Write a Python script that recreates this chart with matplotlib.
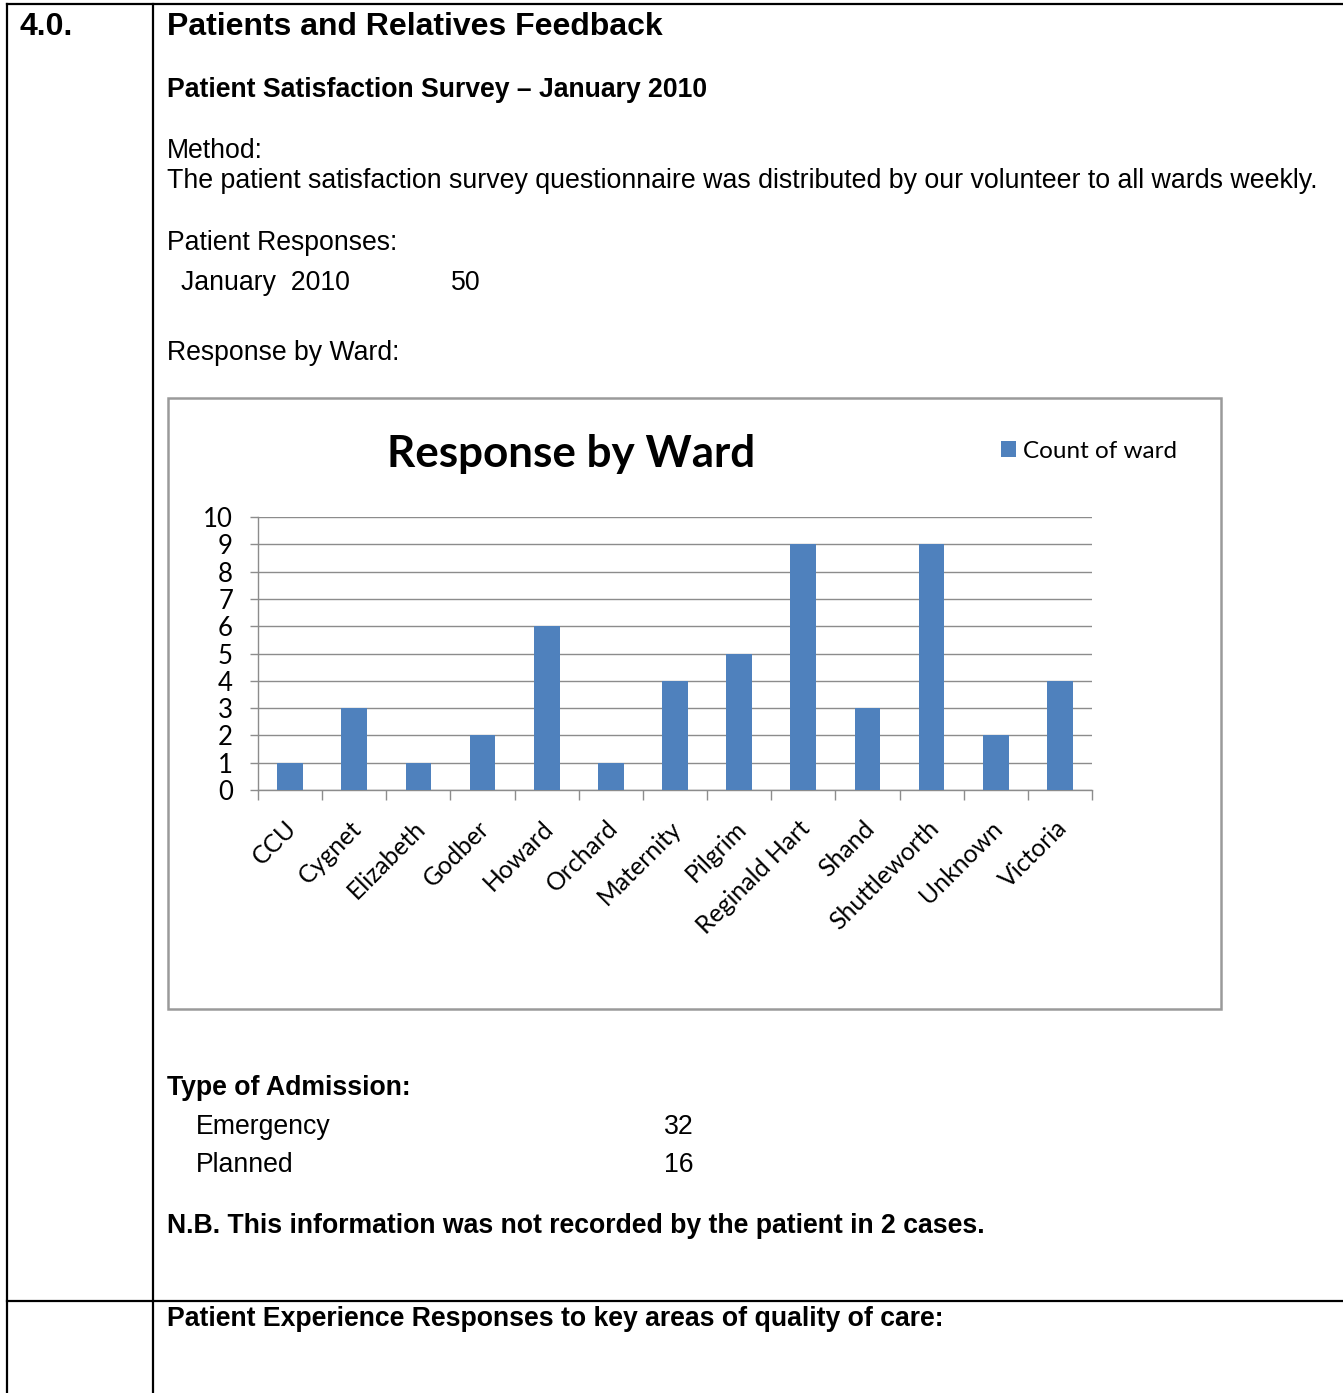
import numpy as np
import matplotlib.pyplot as plt
import matplotlib.transforms as mtransforms
from matplotlib.patches import Rectangle

W, H = 1343, 1393

wards = ['CCU', 'Cygnet', 'Elizabeth', 'Godber', 'Howard', 'Orchard', 'Maternity',
         'Pilgrim', 'Reginald Hart', 'Shand', 'Shuttleworth', 'Unknown', 'Victoria']
counts = [1, 3, 1, 2, 6, 1, 4, 5, 9, 3, 9, 2, 4]

admission_types = ['Emergency', 'Planned']
admission_counts = [32, 16]

BODY = 'Liberation Sans'
CHART = 'Lato'
BAR_BLUE = '#4F81BD'
GRID_GREY = '#8C8C8C'

fig = plt.figure(figsize=(W / 100, H / 100), dpi=100)

# page layer in pixel coordinates (y pointing down)
page = fig.add_axes([0, 0, 1, 1])
page.set_xlim(0, W)
page.set_ylim(H, 0)
page.axis('off')


def txt(x, y, s, bold=False, size=19.2):
    page.text(x, y, s, fontsize=size, family=BODY, va='baseline', ha='left',
              fontweight='bold' if bold else 'normal', color='black')


# table borders
lw = 1.6
page.plot([7, W], [4, 4], color='black', lw=lw)
page.plot([7, 7], [4, H], color='black', lw=lw)
page.plot([153, 153], [4, H], color='black', lw=lw)
page.plot([7, W], [1301, 1301], color='black', lw=lw)

txt(20, 35, '4.0.', bold=True, size=23)
txt(167, 35, 'Patients and Relatives Feedback', bold=True, size=23)
txt(167, 97, 'Patient Satisfaction Survey \u2013 January 2010', bold=True)
txt(167, 158, 'Method:')
txt(167, 188, 'The patient satisfaction survey questionnaire was distributed by our '
              'volunteer to all wards weekly.', size=19.3)
txt(167, 250, 'Patient Responses:')
txt(181, 290, 'January  2010')
txt(451, 290, str(sum(counts)))
txt(167, 360, 'Response by Ward:')

txt(167, 1095, 'Type of Admission:', bold=True)
for i, (name, n) in enumerate(zip(admission_types, admission_counts)):
    yb = 1134 + i * 38
    txt(196, yb, name)
    txt(664, yb, str(n))
txt(167, 1233, 'N.B. This information was not recorded by the patient in 2 cases.',
    bold=True)
txt(167, 1326, 'Patient Experience Responses to key areas of quality of care:',
    bold=True)

# chart frame
page.add_patch(Rectangle((168, 398), 1221 - 168, 1009 - 398, fill=False,
                         edgecolor='#9A9A9A', lw=1.8))

# chart plot area
x0, x1, y0, y1 = 258, 1092, 517, 790
ax = fig.add_axes([x0 / W, 1 - y1 / H, (x1 - x0) / W, (y1 - y0) / H])
pos = np.arange(len(wards))
bars = ax.bar(pos, counts, width=0.4, color=BAR_BLUE, zorder=3,
              label='Count of ward')
ax.set_xlim(-0.5, len(wards) - 0.5)
ax.set_ylim(0, 10)
ax.set_yticks(range(0, 11))
ax.yaxis.grid(True, color=GRID_GREY, lw=1.0, zorder=0)
ax.set_xticks(np.arange(-0.5, len(wards) + 0.5, 1.0))
ax.set_xticklabels([])
ax.set_xticks(pos, minor=True)
ax.set_xticklabels(wards, minor=True, rotation=45, ha='right', va='top',
                   rotation_mode='anchor', fontsize=17.8, family=CHART)
ax.tick_params(axis='x', which='minor', length=0, pad=19)
ax.tick_params(axis='x', which='major', length=7, width=1, color=GRID_GREY,
               direction='out')
ax.tick_params(axis='y', length=6, width=1, color=GRID_GREY, pad=12)
# nudge the slanted ward names a little to the left
nudge = mtransforms.ScaledTranslation(-5 / 100, 0, fig.dpi_scale_trans)
for lab in ax.get_xticklabels(minor=True):
    lab.set_transform(lab.get_transform() + nudge)
for lab in ax.get_yticklabels():
    lab.set_fontsize(18.5)
    lab.set_family(CHART)
for side in ['top', 'right']:
    ax.spines[side].set_visible(False)
for side in ['left', 'bottom']:
    ax.spines[side].set_color(GRID_GREY)
    ax.spines[side].set_linewidth(1.0)
ax.set_facecolor('none')

fig.text(571 / W, 1 - 454 / H, 'Response by Ward', fontsize=31.7, family=CHART,
         fontweight='bold', ha='center', va='center')

fig.legend(handles=[bars], loc='center left', frameon=False,
           bbox_to_anchor=(1001 / W, 1 - 451 / H), borderpad=0, borderaxespad=0,
           handlelength=0.6, handleheight=0.6, handletextpad=0.3,
           prop={'family': CHART, 'size': 17.5})

fig.savefig('out.png', dpi=100, facecolor='white')
